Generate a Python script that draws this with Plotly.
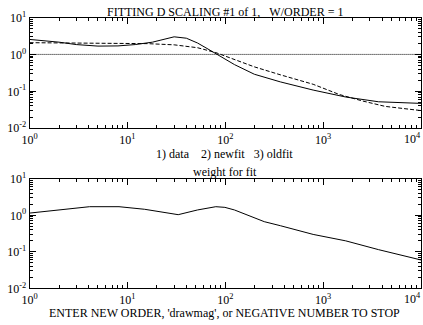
import plotly.graph_objects as go

# frequency grid points and magnitudes
freq_data = [1, 2, 3, 5, 8, 12, 18, 25, 30, 40, 52, 65, 80, 99, 124, 198, 365, 790, 1700, 3680, 10000]
mag_data = [2.55, 2.15, 1.85, 1.68, 1.70, 1.85, 2.15, 2.65, 3.0, 2.75, 2.04, 1.45, 1.06, 0.76, 0.53, 0.29, 0.18, 0.108, 0.070, 0.052, 0.047]

freq_fit = [1, 3, 8, 16, 30, 52, 80, 124, 198, 365, 790, 1460, 2500, 4300, 10000]
mag_newfit = [2.08, 2.06, 2.02, 1.96, 1.82, 1.52, 1.12, 0.73, 0.46, 0.28, 0.155, 0.082, 0.055, 0.039, 0.030]

freq_old = [1, 10000]
mag_oldfit = [1.0, 1.0]

freq_wt = [1, 1.9, 4.1, 8.2, 15, 33, 52, 80, 99, 124, 198, 250, 365, 790, 1700, 3680, 10000]
weight = [1.15, 1.40, 1.72, 1.72, 1.46, 1.04, 1.40, 1.72, 1.65, 1.40, 0.85, 0.67, 0.52, 0.30, 0.20, 0.115, 0.060]

decades = [1, 10, 100, 1000, 10000]
x_ticktext = ["10<sup>0</sup>", "10<sup>1</sup>", "10<sup>2</sup>", "10<sup>3</sup>", "10<sup>4</sup>"]
y_decades = [0.01, 0.1, 1, 10]
y_ticktext = ["10<sup>-2</sup>", "10<sup>-1</sup>", "10<sup>0</sup>", "10<sup>1</sup>"]

FONT = "Liberation Serif"
W, H = 423, 325

fig = go.Figure()
line = dict(color="black", width=1)
fig.add_trace(go.Scatter(x=freq_data, y=mag_data, mode="lines", line=line, xaxis="x", yaxis="y"))
fig.add_trace(go.Scatter(x=freq_fit, y=mag_newfit, mode="lines",
                         line=dict(color="black", width=1, dash="4px,2px"), xaxis="x", yaxis="y"))
fig.add_trace(go.Scatter(x=freq_old, y=mag_oldfit, mode="lines",
                         line=dict(color="black", width=1, dash="1px,1px"), xaxis="x", yaxis="y"))
fig.add_trace(go.Scatter(x=freq_wt, y=weight, mode="lines", line=line, xaxis="x2", yaxis="y2"))

x_dom = [22 / W, 421 / W]
top_dom = [1 - 126 / H, 1 - 10 / H]
bot_dom = [1 - 294 / H, 1 - 179 / H]
x_range = [0, 4]
y_range = [-2, 1]


def axis(vals, text, rng, anchor, dom):
    return dict(type="log", range=rng, anchor=anchor, domain=dom,
                tickvals=vals, ticktext=text,
                ticks="inside", ticklen=6, tickcolor="black", tickwidth=1,
                showline=True, linecolor="black", linewidth=1,
                mirror="ticks", showgrid=False, zeroline=False,
                minor=dict(ticks="inside", ticklen=3, tickcolor="black", tickwidth=1,
                           dtick="D1", showgrid=False),
                tickfont=dict(family=FONT, size=12, color="black"))


# the last decade label sits on the right edge of the page; plotly would hide
# it as overflowing, so it is placed as a right-aligned annotation instead
x_ticktext_axis = x_ticktext[:-1] + [""]

fig.update_layout(
    width=W, height=H, autosize=False,
    margin=dict(l=0, r=0, t=0, b=0),
    paper_bgcolor="white", plot_bgcolor="white",
    showlegend=False,
    font=dict(family=FONT, size=12, color="black"),
    xaxis=axis(decades, x_ticktext_axis, x_range, "y", x_dom),
    yaxis=axis(y_decades, y_ticktext, y_range, "x", top_dom),
    xaxis2=axis(decades, x_ticktext_axis, x_range, "y2", x_dom),
    yaxis2=axis(y_decades, y_ticktext, y_range, "x2", bot_dom),
)

for xr, yr in (("x", "y domain"), ("x2", "y2 domain")):
    fig.add_annotation(text=x_ticktext[-1], x=x_range[1], xref=xr, yref=yr, y=0,
                       xanchor="right", yanchor="top", xshift=2, yshift=-1, showarrow=False,
                       font=dict(family=FONT, size=12, color="black"))

texts = [
    ("FITTING D SCALING #1 of 1,&nbsp;&nbsp;&nbsp;W/ORDER = 1", 4, 12),
    ("1) data&nbsp;&nbsp;&nbsp;&nbsp;2) newfit&nbsp;&nbsp;&nbsp;3) oldfit", 153, 12),
    ("weight for fit", 172, 12),
    ("ENTER NEW ORDER, 'drawmag', or NEGATIVE NUMBER TO STOP", 320, 12),
]
for t, ypix, size in texts:
    fig.add_annotation(text=t, xref="paper", yref="paper", x=221 / W, y=1 - ypix / H,
                       xanchor="center", yanchor="middle", showarrow=False,
                       font=dict(family=FONT, size=size, color="black"))

fig.write_html("out.html")
